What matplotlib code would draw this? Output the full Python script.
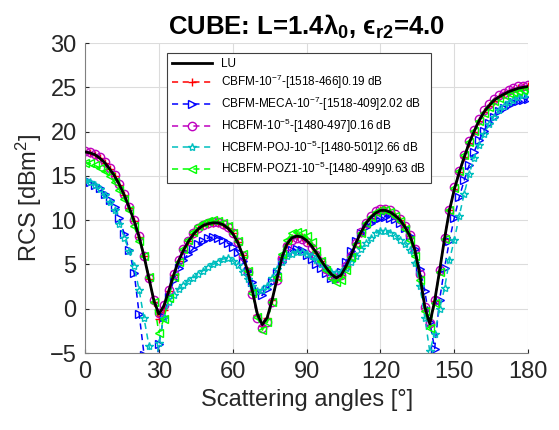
import matplotlib
matplotlib.use("Agg")
import matplotlib.pyplot as plt
import numpy as np

plt.rcParams['font.family'] = ['Liberation Sans', 'DejaVu Sans']
plt.rcParams['mathtext.fontset'] = 'custom'
plt.rcParams['mathtext.rm'] = 'Liberation Sans'
plt.rcParams['mathtext.it'] = 'Liberation Sans:italic'
plt.rcParams['mathtext.bf'] = 'Liberation Sans:bold'

# scattering angles, 2 degree step
angles = np.arange(0, 181, 2)

lu = [17.7, 17.6, 17.4, 17.0, 16.5, 15.8, 15.0, 14.0, 12.8, 11.4,
      9.9, 8.1, 5.9, 3.4, 0.9, -0.6, 0.3, 2.0, 3.8, 5.4,
      6.6, 7.6, 8.4, 9.0, 9.4, 9.6, 9.7, 9.7, 9.5, 9.1,
      8.5, 7.5, 6.1, 4.3, 2.0, -0.6, -1.8, -1.0, 1.0, 3.4,
      5.8, 7.3, 8.0, 8.2, 8.1, 7.7, 7.1, 6.3, 5.4, 4.6,
      3.9, 3.5, 3.8, 4.8, 6.0, 7.4, 8.6, 9.6, 10.3, 10.8,
      11.1, 11.1, 10.9, 10.5, 10.0, 9.2, 8.2, 6.6, 3.8, 0.2,
      -1.7, 0.9, 4.3, 7.9, 11.1, 13.5, 15.4, 17.1, 18.7, 20.0,
      21.2, 22.2, 22.9, 23.5, 23.9, 24.2, 24.5, 24.7, 24.9, 25.0,
      25.1]

cbfm = [17.7, 17.6, 17.4, 17.0, 16.5, 15.8, 15.0, 14.0, 12.8, 11.4,
        9.9, 8.1, 5.9, 3.4, 0.8, -1.2, -0.1, 2.0, 3.8, 5.4,
        6.6, 7.6, 8.4, 9.0, 9.4, 9.6, 9.7, 9.7, 9.5, 9.1,
        8.5, 7.5, 6.1, 4.3, 2.0, -0.7, -1.9, -1.0, 1.0, 3.4,
        5.8, 7.3, 8.0, 8.2, 8.1, 7.7, 7.1, 6.3, 5.4, 4.6,
        3.9, 3.5, 3.8, 4.8, 6.0, 7.4, 8.6, 9.6, 10.3, 10.8,
        11.1, 11.1, 10.9, 10.5, 10.0, 9.2, 8.2, 6.6, 3.7, 0.1,
        -1.8, 0.9, 4.3, 7.9, 11.1, 13.5, 15.4, 17.1, 18.7, 20.0,
        21.2, 22.2, 22.9, 23.5, 23.9, 24.2, 24.5, 24.7, 24.9, 25.0,
        25.1]

cbfm_meca = [14.4, 14.3, 14.0, 13.6, 13.0, 12.3, 11.5, 10.2, 8.4, 6.6,
             4.0, -0.6, -5.2, -9.0, -9.0, -4.0, -0.9, 1.3, 3.2, 4.6,
             5.5, 6.2, 6.8, 7.3, 7.7, 8.0, 8.1, 8.0, 7.8, 7.4,
             7.0, 6.4, 5.4, 4.3, 3.0, 1.9, 1.5, 2.2, 3.0, 4.0,
             5.3, 6.2, 6.6, 6.8, 6.6, 6.1, 5.6, 5.1, 4.6, 4.0,
             3.5, 3.4, 4.2, 5.3, 6.5, 7.6, 8.5, 9.2, 9.7, 10.1,
             10.3, 10.4, 10.3, 10.1, 9.7, 9.1, 8.2, 6.7, 4.5, 2.0,
             -1.5, -4.5, 1.0, 4.6, 7.7, 10.3, 12.6, 14.5, 16.2, 17.7,
             19.0, 20.1, 21.0, 21.7, 22.3, 22.7, 23.0, 23.3, 23.5, 23.6,
             23.7]

hcbfm = [17.8, 17.7, 17.5, 17.1, 16.6, 15.9, 15.1, 14.1, 12.9, 11.5,
         10.0, 8.2, 6.0, 3.5, 1.0, -0.5, 0.4, 2.1, 3.9, 5.5,
         6.7, 7.7, 8.5, 9.1, 9.5, 9.7, 9.8, 9.8, 9.6, 9.2,
         8.6, 7.5, 6.0, 4.1, 1.7, -1.0, -2.2, -1.5, 0.8, 3.3,
         5.7, 7.1, 7.8, 8.0, 7.9, 7.5, 6.9, 6.1, 5.3, 4.5,
         3.8, 3.5, 3.8, 4.8, 6.0, 7.4, 8.7, 9.7, 10.5, 11.0,
         11.3, 11.3, 11.1, 10.7, 10.1, 9.3, 8.3, 6.7, 3.9, 0.2,
         -1.6, 1.0, 4.4, 8.0, 11.2, 13.7, 15.6, 17.3, 18.9, 20.2,
         21.4, 22.4, 23.1, 23.7, 24.1, 24.4, 24.7, 24.9, 25.1, 25.2,
         25.3]

hcbfm_poj = [14.5, 14.3, 14.0, 13.5, 12.8, 12.1, 11.2, 9.6, 8.0, 6.5,
             4.8, 2.1, -1.1, -4.2, -8.0, -3.9, -1.0, 0.8, 1.6, 2.2,
             2.7, 3.1, 3.5, 3.9, 4.3, 4.7, 5.0, 5.3, 5.6, 5.7,
             5.4, 4.9, 4.2, 3.4, 2.6, 2.0, 2.1, 2.6, 3.5, 4.5,
             5.3, 5.9, 6.2, 6.4, 6.4, 6.2, 5.9, 5.5, 5.0, 4.6,
             4.2, 4.0, 4.2, 4.6, 5.3, 5.9, 6.7, 7.4, 8.0, 8.5,
             8.8, 8.8, 8.6, 8.2, 7.8, 7.3, 6.6, 5.2, 2.6, -1.0,
             -4.8, -2.8, 0.0, 2.3, 5.5, 7.8, 10.5, 13.0, 15.2, 17.0,
             18.5, 19.7, 20.8, 21.7, 22.4, 22.9, 23.3, 23.6, 23.9, 24.1,
             24.2]

hcbfm_poz1 = [16.5, 16.4, 16.2, 15.9, 15.6, 15.0, 14.3, 13.4, 12.4, 11.1,
              9.3, 7.7, 5.9, 3.6, 0.8, -2.7, -1.2, 1.2, 3.6, 5.3,
              6.7, 7.8, 8.7, 9.3, 9.7, 9.9, 10.0, 9.9, 9.7, 9.3,
              8.6, 7.6, 6.2, 4.3, 1.8, -0.9, -2.4, -1.5, 0.8, 3.6,
              6.2, 7.8, 8.5, 8.7, 8.6, 8.2, 7.5, 6.5, 5.4, 4.4,
              3.5, 3.0, 3.3, 4.4, 5.8, 7.3, 8.6, 9.7, 10.4, 10.9,
              11.1, 11.1, 10.9, 10.5, 9.9, 9.0, 7.8, 6.0, 3.2, -0.2,
              -2.2, 0.6, 4.2, 7.9, 11.1, 13.6, 15.6, 17.3, 18.8, 20.1,
              21.2, 22.1, 22.8, 23.4, 23.8, 24.1, 24.3, 24.5, 24.6, 24.7,
              24.8]

labels = ['LU',
          'CBFM-10$^{-7}$-[1518-466]0.19 dB',
          'CBFM-MECA-10$^{-7}$-[1518-409]2.02 dB',
          'HCBFM-10$^{-5}$-[1480-497]0.16 dB',
          'HCBFM-POJ-10$^{-5}$-[1480-501]2.66 dB',
          'HCBFM-POZ1-10$^{-5}$-[1480-499]0.63 dB']

fig = plt.figure(figsize=(5.59, 4.30), dpi=100)
ax = fig.add_axes([0.152, 0.179, 0.793, 0.721])

ax.plot(angles, lu, color='k', lw=2, label=labels[0], zorder=3)
series = [(cbfm, 'r', '+'), (cbfm_meca, 'b', '>'), (hcbfm, 'm', 'o'),
          (hcbfm_poj, 'c', '*'), (hcbfm_poz1, 'lime', '<')]
for (vals, col, mk), lab in zip(series, labels[1:]):
    ax.plot(angles, vals, color=col, ls='--', dashes=(4, 3), lw=1.1,
            marker=mk, ms=6, mfc='none', mew=1.0, label=lab)

ax.set_xlim(0, 180)
ax.set_ylim(-5, 30)
ax.set_xticks(range(0, 181, 30))
ax.set_yticks(range(-5, 31, 5))
ax.grid(True, color='#dcdcdc', lw=0.8)
ax.set_axisbelow(True)
for s in ['top', 'right']:
    ax.spines[s].set_visible(False)
for s in ['left', 'bottom']:
    ax.spines[s].set_color('#808080')
ax.tick_params(direction='in', length=3, labelsize=17, colors='#262626',
               pad=6)

ax.set_xlabel('Scattering angles [°]', fontsize=17, color='#262626')
ax.set_ylabel('RCS [dBm$^2$]', fontsize=17, color='#262626')
ax.set_title('CUBE: L=1.4λ$_\\mathbf{0}$, \u03f5$_\\mathbf{r2}$=4.0',
             fontsize=18.5, fontweight='bold', pad=6)

leg = ax.legend(loc='upper left', bbox_to_anchor=(0.185, 0.968),
                borderaxespad=0, fontsize=8.5, handlelength=3.4,
                labelspacing=0.3, fancybox=False, framealpha=1,
                edgecolor='#404040')
leg.get_frame().set_linewidth(0.8)

plt.savefig('out.png')
